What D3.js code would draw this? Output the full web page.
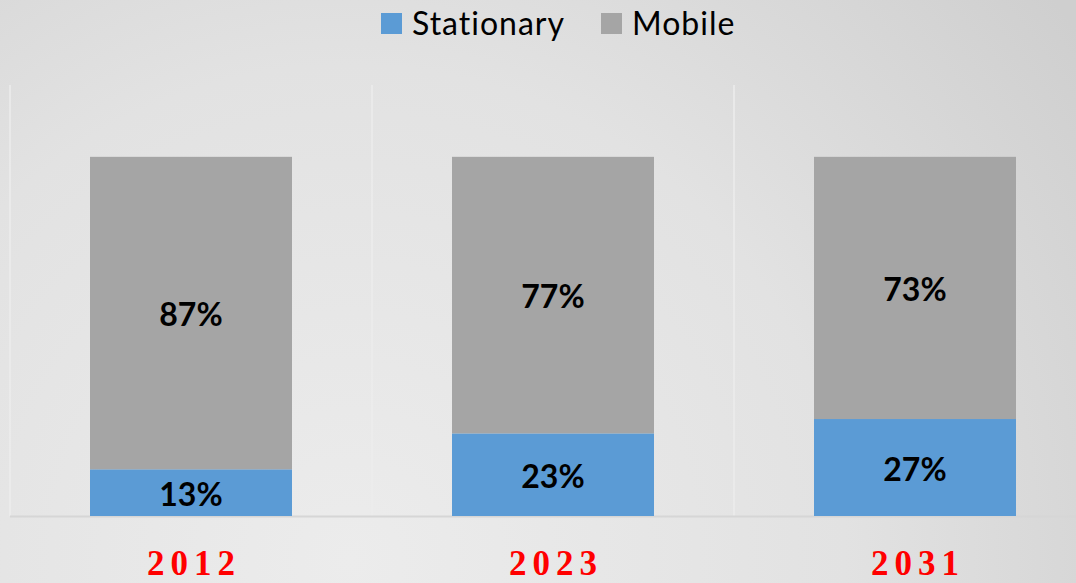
<!DOCTYPE html>
<html><head><meta charset="utf-8">
<script src="https://cdn.jsdelivr.net/npm/d3@7"></script>
<style>html,body{margin:0;padding:0;overflow:hidden;}</style>
</head><body>
<svg id="chart" width="1076" height="583"></svg>
<script>
const categories = ["2012", "2023", "2031"];
const stationary = [13, 23, 27];
const mobile = [87, 77, 73];
const seriesNames = ["Stationary", "Mobile"];
const colors = ["#5b9bd5", "#a5a5a5"];

const W = 1076, H = 583;
const svg = d3.select("#chart");
const defs = svg.append("defs");
const grad = defs.append("radialGradient").attr("id","bg")
  .attr("gradientUnits","userSpaceOnUse").attr("cx",350).attr("cy",560).attr("r",900);
grad.append("stop").attr("offset","0").attr("stop-color","#ececec");
grad.append("stop").attr("offset","0.55").attr("stop-color","#e2e2e2");
grad.append("stop").attr("offset","1").attr("stop-color","#cfcfcf");
svg.append("rect").attr("width",W).attr("height",H).attr("fill","url(#bg)");

const plotL = 10, plotR = 10 + 3*362, plotTop = 85, plotBottom = 516;
const x = d3.scaleBand().domain(categories).range([plotL, plotR]).paddingInner(0).paddingOuter(0);
const y = d3.scaleLinear().domain([0, 120]).range([plotBottom, plotTop]);
const barW = 202;

// grid lines (category separators)
svg.append("g").selectAll("line").data(categories).join("line")
  .attr("x1", d => x(d)).attr("x2", d => x(d))
  .attr("y1", plotTop).attr("y2", plotBottom)
  .attr("stroke", "#ececec").attr("stroke-width", 1.5);
svg.append("line").attr("x1", plotL).attr("x2", W).attr("y1", plotBottom+0.5).attr("y2", plotBottom+0.5)
  .attr("stroke", "#d6d6d6").attr("stroke-width", 2);

const data = categories.map((c,i) => ({cat:c, Stationary: stationary[i], Mobile: mobile[i]}));
const stack = d3.stack().keys(seriesNames)(data);

const g = svg.append("g");
stack.forEach((s, si) => {
  g.append("g").selectAll("rect").data(s).join("rect")
    .attr("x", d => x(d.data.cat) + (x.bandwidth()-barW)/2)
    .attr("width", barW)
    .attr("y", d => y(d[1]))
    .attr("height", d => y(d[0]) - y(d[1]))
    .attr("fill", colors[si]);
  g.append("g").selectAll("text").data(s).join("text")
    .attr("x", d => x(d.data.cat) + x.bandwidth()/2)
    .attr("y", d => (y(d[0]) + y(d[1]))/2 + 13)
    .attr("text-anchor","middle")
    .attr("font-family","Lato, 'Open Sans', sans-serif")
    .attr("font-weight","bold").attr("font-size", 32)
    .attr("fill","#000")
    .text(d => (d[1]-d[0]) + "%");
});

// x axis labels
const xAxis = d3.axisBottom(x).tickSize(0).tickPadding(0);
const ax = svg.append("g").attr("transform", `translate(0,${plotBottom})`).call(xAxis);
ax.select(".domain").remove();
ax.selectAll("text")
  .attr("dy", null).attr("y", 59).attr("dx", 3)
  .attr("font-family","'Liberation Serif', serif").attr("font-weight","bold")
  .attr("font-size", 35).attr("fill","#ff0000")
  .attr("letter-spacing", 6).style("text-anchor","middle");

// legend
const legend = svg.append("g");
const legItems = [{name:"Stationary", x:381, color:colors[0]}, {name:"Mobile", x:601, color:colors[1]}];
legItems.forEach(it => {
  legend.append("rect").attr("x", it.x).attr("y", 13).attr("width", 21).attr("height", 21).attr("fill", it.color);
  legend.append("text").attr("x", it.x + 31).attr("y", 35)
    .attr("font-family","Lato, sans-serif").attr("font-size", 32).attr("letter-spacing", 1)
    .attr("fill","#000")
    .text(it.name);
});
</script>
</body></html>
